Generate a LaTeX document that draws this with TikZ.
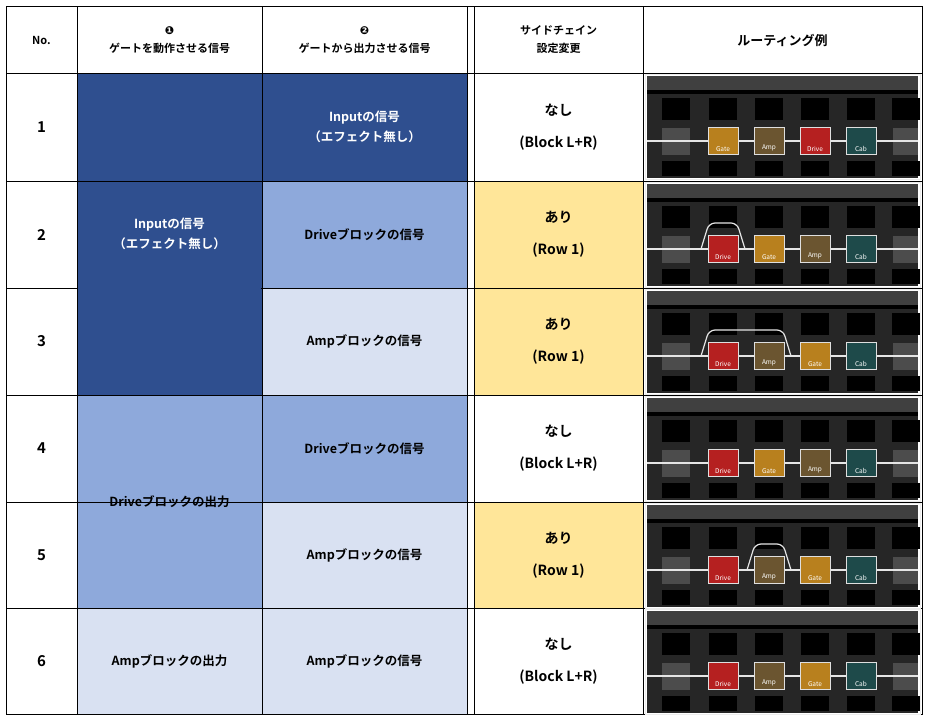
\documentclass[tikz,border=0pt]{standalone}
\usepackage{fontspec}
\setmainfont{Noto Sans CJK JP}[BoldFont={Noto Sans CJK JP Bold}]
\newfontfamily\dv{DejaVu Sans}
\definecolor{dkb}{HTML}{2F4F8F}
\definecolor{mdb}{HTML}{8EA9DB}
\definecolor{ltb}{HTML}{D9E1F2}
\definecolor{ylw}{HTML}{FFE699}
\definecolor{cGate}{HTML}{B8801E}
\definecolor{cAmp}{HTML}{6B5530}
\definecolor{cDrive}{HTML}{B52020}
\definecolor{cCab}{HTML}{1E4A4A}
\tikzset{
 cell/.style={draw=black,line width=0.8pt},
 txt/.style={font=\bfseries\fontsize{12.5}{20}\selectfont,align=center,text=black},
 wtxt/.style={txt,text=white},
 htxt/.style={font=\bfseries\fontsize{11}{18}\selectfont,align=center},
 blk/.style={draw=white!75!gray,line width=1pt,minimum width=30pt,minimum height=27pt,inner sep=0pt},
 blab/.style={font=\fontsize{6.5}{7}\selectfont,text=white},
 sq/.style={fill=black!92},
 rte/.style={draw=white!80!gray,line width=1.2pt},
}
\newcommand{\mkblk}[4]{% x, top, colour, label
 \node[blk,fill=#3] (b#4#2) at (#1,#2+68) {};
 \node[blab,anchor=south] at (b#4#2.south) {#4};
}
\newcommand{\shot}[7]{% top, b1..b4, loopstart x, loopend x
 \fill[black!85] (647,#1+3) rectangle (918,#1+105);
 \fill[black!75] (647,#1+3) rectangle (918,#1+17);
 \fill[black] (647,#1+17) rectangle (918,#1+21);
 \foreach \xx in {676,723,769,815,861,906}{
  \fill[black] (\xx-14,#1+25) rectangle (\xx+14,#1+47);
  \fill[black] (\xx-14,#1+88) rectangle (\xx+14,#1+103);}
 \fill[black!70] (662,#1+55) rectangle (690,#1+82);
 \fill[black!70] (893,#1+55) rectangle (918,#1+82);
 \coordinate (ls#1) at (647,#1+68); \coordinate (le#1) at (918,#1+68);
 \draw[rte] (ls#1) -- (le#1);
 \ifx&#6&\else
 \coordinate (la#1) at (#6-22,#1+68); \coordinate (lb#1) at (#7+22,#1+68);
 \draw[rte,rounded corners=6pt] (la#1) -- (#6-14,#1+42) -- (#7+14,#1+42) -- (lb#1);
 \fi
 \mkblk{723}{#1}{c#2}{#2}\mkblk{769}{#1}{c#3}{#3}\mkblk{815}{#1}{c#4}{#4}\mkblk{861}{#1}{c#5}{#5}
 \draw[white!85!gray,line width=1pt] (645,#1+1) rectangle (920,#1+106);
}
\begin{document}
\begin{tikzpicture}[x=1pt,y=-1pt]
\useasboundingbox (0,0) rectangle (926,718);
\fill[white] (0,0) rectangle (926,718);
% fills
\fill[dkb] (77,73) rectangle (262,395);
\fill[dkb] (262,73) rectangle (467,181);
\fill[mdb] (262,181) rectangle (467,288);
\fill[ltb] (262,288) rectangle (467,395);
\fill[mdb] (77,395) rectangle (262,608);
\fill[mdb] (262,395) rectangle (467,502);
\fill[ltb] (262,502) rectangle (467,714);
\fill[ltb] (77,608) rectangle (262,714);
\fill[ylw] (474,181) rectangle (643,395);
\fill[ylw] (474,502) rectangle (643,608);
% grid
\draw[cell] (6,6) rectangle (922,714);
\foreach \xx in {77,262,467,474,643}{\draw[cell] (\xx,6) -- (\xx,714);}
\foreach \yy in {73,181,288,395,502,608}{\draw[cell] (6,\yy) -- (922,\yy);}
\fill[dkb] (78,182) rectangle (261,394);
\fill[mdb] (78,503) rectangle (261,607);
% header
\node[htxt] (h0) at (41.5,40) {No.};
\node[htxt] (h1) at (169.5,40) {{\dv\char"2776}\\ゲートを動作させる信号};
\node[htxt] (h2) at (364.5,40) {{\dv\char"2777}\\ゲートから出力させる信号};
\node[htxt] (h3) at (558.5,40) {サイドチェイン\\設定変更};
\node[htxt,font=\bfseries\fontsize{13}{18}\selectfont] (h4) at (782.5,40) {ルーティング例};
% numbers
\foreach \n/\yy in {1/127,2/234.5,3/341.5,4/448.5,5/555,6/661}{\node[txt,font=\bfseries\fontsize{15}{18}\selectfont] (n\n) at (41.5,\yy) {\n};}
\node[wtxt] (c1) at (169.5,234) {Inputの信号\\（エフェクト無し）};
\node[txt] (c2) at (169.5,501.5) {Driveブロックの出力};
\node[txt] (c3) at (169.5,661) {Ampブロックの出力};
\node[wtxt] (d1) at (364.5,127) {Inputの信号\\（エフェクト無し）};
\node[txt] (d2) at (364.5,234.5) {Driveブロックの信号};
\node[txt] (d3) at (364.5,341.5) {Ampブロックの信号};
\node[txt] (d4) at (364.5,448.5) {Driveブロックの信号};
\node[txt] (d5) at (364.5,555) {Ampブロックの信号};
\node[txt] (d6) at (364.5,661) {Ampブロックの信号};
\tikzset{s/.style={txt,font=\bfseries\fontsize{14}{32}\selectfont}}
\node[s] (e1) at (558.5,127) {なし\\(Block L+R)};
\node[s] (e2) at (558.5,234.5) {あり\\(Row 1)};
\node[s] (e3) at (558.5,341.5) {あり\\(Row 1)};
\node[s] (e4) at (558.5,448.5) {なし\\(Block L+R)};
\node[s] (e5) at (558.5,555) {あり\\(Row 1)};
\node[s] (e6) at (558.5,661) {なし\\(Block L+R)};
% screenshots
\shot{73}{Gate}{Amp}{Drive}{Cab}{}{}
\shot{181}{Drive}{Gate}{Amp}{Cab}{723}{723}
\shot{288}{Drive}{Amp}{Gate}{Cab}{723}{769}
\shot{395}{Drive}{Gate}{Amp}{Cab}{}{}
\shot{502}{Drive}{Amp}{Gate}{Cab}{769}{769}
\shot{608}{Drive}{Amp}{Gate}{Cab}{}{}
\end{tikzpicture}
\end{document}
